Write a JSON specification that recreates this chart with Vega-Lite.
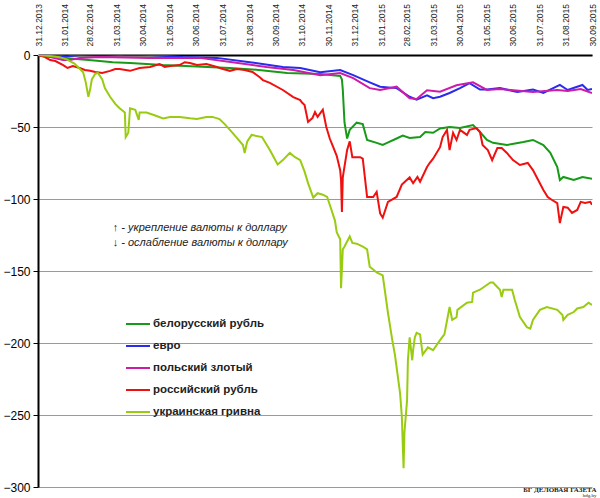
{
  "$schema": "https://vega.github.io/schema/vega-lite/v6.json",
  "width": 554,
  "height": 432,
  "autosize": {"type": "none"},
  "padding": {"left": 38, "top": 55, "right": 8, "bottom": 11},
  "background": "white",
  "config": {"view": {"stroke": null}, "font": "Liberation Sans"},
  "title": {
    "text": "БГ ДЕЛОВАЯ ГАЗЕТА",
    "subtitle": "bdg.by",
    "orient": "bottom",
    "anchor": "end",
    "font": "Liberation Serif",
    "fontSize": 7,
    "fontWeight": "bold",
    "color": "#222",
    "subtitleFont": "Liberation Serif",
    "subtitleFontSize": 5,
    "subtitleColor": "#222",
    "subtitlePadding": 0,
    "offset": -7
  },
  "datasets": {
    "rates": [
      {"date": "2013-12-31", "currency": "белорусский рубль", "value": 0},
      {"date": "2014-01-14", "currency": "белорусский рубль", "value": -1.2},
      {"date": "2014-01-29", "currency": "белорусский рубль", "value": -2},
      {"date": "2014-02-17", "currency": "белорусский рубль", "value": -3},
      {"date": "2014-03-09", "currency": "белорусский рубль", "value": -4},
      {"date": "2014-03-27", "currency": "белорусский рубль", "value": -5},
      {"date": "2014-04-16", "currency": "белорусский рубль", "value": -5.5},
      {"date": "2014-05-05", "currency": "белорусский рубль", "value": -6.2},
      {"date": "2014-05-24", "currency": "белорусский рубль", "value": -7},
      {"date": "2014-06-12", "currency": "белорусский рубль", "value": -7.5},
      {"date": "2014-07-02", "currency": "белорусский рубль", "value": -8},
      {"date": "2014-07-20", "currency": "белорусский рубль", "value": -8.5},
      {"date": "2014-08-09", "currency": "белорусский рубль", "value": -9},
      {"date": "2014-09-04", "currency": "белорусский рубль", "value": -10},
      {"date": "2014-10-14", "currency": "белорусский рубль", "value": -12.5},
      {"date": "2014-11-21", "currency": "белорусский рубль", "value": -13.2},
      {"date": "2014-12-14", "currency": "белорусский рубль", "value": -14.5},
      {"date": "2014-12-16", "currency": "белорусский рубль", "value": -17},
      {"date": "2014-12-17", "currency": "белорусский рубль", "value": -24},
      {"date": "2014-12-19", "currency": "белорусский рубль", "value": -47},
      {"date": "2014-12-22", "currency": "белорусский рубль", "value": -58},
      {"date": "2014-12-25", "currency": "белорусский рубль", "value": -52},
      {"date": "2015-01-02", "currency": "белорусский рубль", "value": -47},
      {"date": "2015-01-09", "currency": "белорусский рубль", "value": -48},
      {"date": "2015-01-14", "currency": "белорусский рубль", "value": -59},
      {"date": "2015-01-25", "currency": "белорусский рубль", "value": -61},
      {"date": "2015-02-01", "currency": "белорусский рубль", "value": -62.5},
      {"date": "2015-02-06", "currency": "белорусский рубль", "value": -61},
      {"date": "2015-02-17", "currency": "белорусский рубль", "value": -58},
      {"date": "2015-02-24", "currency": "белорусский рубль", "value": -56},
      {"date": "2015-03-04", "currency": "белорусский рубль", "value": -57.6},
      {"date": "2015-03-16", "currency": "белорусский рубль", "value": -57},
      {"date": "2015-03-22", "currency": "белорусский рубль", "value": -53.5},
      {"date": "2015-03-31", "currency": "белорусский рубль", "value": -54},
      {"date": "2015-04-08", "currency": "белорусский рубль", "value": -51},
      {"date": "2015-04-19", "currency": "белорусский рубль", "value": -50},
      {"date": "2015-05-01", "currency": "белорусский рубль", "value": -50.7},
      {"date": "2015-05-16", "currency": "белорусский рубль", "value": -48.6},
      {"date": "2015-05-24", "currency": "белорусский рубль", "value": -53.5},
      {"date": "2015-06-01", "currency": "белорусский рубль", "value": -59},
      {"date": "2015-06-08", "currency": "белорусский рубль", "value": -61},
      {"date": "2015-06-24", "currency": "белорусский рубль", "value": -62.5},
      {"date": "2015-07-13", "currency": "белорусский рубль", "value": -60.4},
      {"date": "2015-07-24", "currency": "белорусский рубль", "value": -59},
      {"date": "2015-08-05", "currency": "белорусский рубль", "value": -62.5},
      {"date": "2015-08-13", "currency": "белорусский рубль", "value": -68},
      {"date": "2015-08-21", "currency": "белорусский рубль", "value": -77.8},
      {"date": "2015-08-24", "currency": "белорусский рубль", "value": -86.8},
      {"date": "2015-08-28", "currency": "белорусский рубль", "value": -84.7},
      {"date": "2015-09-09", "currency": "белорусский рубль", "value": -86.8},
      {"date": "2015-09-19", "currency": "белорусский рубль", "value": -84.7},
      {"date": "2015-09-30", "currency": "белорусский рубль", "value": -86},

      {"date": "2013-12-31", "currency": "евро", "value": 0},
      {"date": "2014-01-14", "currency": "евро", "value": 0},
      {"date": "2014-02-02", "currency": "евро", "value": -1},
      {"date": "2014-02-17", "currency": "евро", "value": 0},
      {"date": "2014-03-12", "currency": "евро", "value": 0.5},
      {"date": "2014-04-04", "currency": "евро", "value": 0},
      {"date": "2014-04-19", "currency": "евро", "value": 0.3},
      {"date": "2014-05-09", "currency": "евро", "value": 0},
      {"date": "2014-06-16", "currency": "евро", "value": -1.4},
      {"date": "2014-07-25", "currency": "евро", "value": -2},
      {"date": "2014-09-01", "currency": "евро", "value": -5},
      {"date": "2014-10-09", "currency": "евро", "value": -8.3},
      {"date": "2014-10-29", "currency": "евро", "value": -9},
      {"date": "2014-11-21", "currency": "евро", "value": -12},
      {"date": "2014-12-14", "currency": "евро", "value": -10.4},
      {"date": "2014-12-29", "currency": "евро", "value": -14},
      {"date": "2015-01-17", "currency": "евро", "value": -19},
      {"date": "2015-01-29", "currency": "евро", "value": -22},
      {"date": "2015-02-17", "currency": "евро", "value": -23},
      {"date": "2015-03-04", "currency": "евро", "value": -29},
      {"date": "2015-03-12", "currency": "евро", "value": -31},
      {"date": "2015-03-24", "currency": "евро", "value": -28},
      {"date": "2015-03-31", "currency": "евро", "value": -30},
      {"date": "2015-04-08", "currency": "евро", "value": -29},
      {"date": "2015-04-19", "currency": "евро", "value": -26.4},
      {"date": "2015-05-01", "currency": "евро", "value": -23},
      {"date": "2015-05-12", "currency": "евро", "value": -19.5},
      {"date": "2015-05-24", "currency": "евро", "value": -24},
      {"date": "2015-06-01", "currency": "евро", "value": -24},
      {"date": "2015-06-16", "currency": "евро", "value": -23},
      {"date": "2015-07-06", "currency": "евро", "value": -25.7},
      {"date": "2015-07-24", "currency": "евро", "value": -24},
      {"date": "2015-08-05", "currency": "евро", "value": -26.4},
      {"date": "2015-08-24", "currency": "евро", "value": -20.8},
      {"date": "2015-09-02", "currency": "евро", "value": -24.3},
      {"date": "2015-09-19", "currency": "евро", "value": -20.8},
      {"date": "2015-09-25", "currency": "евро", "value": -24.3},
      {"date": "2015-09-30", "currency": "евро", "value": -23.6},

      {"date": "2013-12-31", "currency": "польский злотый", "value": 0},
      {"date": "2014-01-14", "currency": "польский злотый", "value": -1.4},
      {"date": "2014-01-29", "currency": "польский злотый", "value": -3.5},
      {"date": "2014-02-06", "currency": "польский злотый", "value": -3.5},
      {"date": "2014-02-17", "currency": "польский злотый", "value": -2},
      {"date": "2014-03-12", "currency": "польский злотый", "value": -1.4},
      {"date": "2014-05-09", "currency": "польский злотый", "value": -2},
      {"date": "2014-07-05", "currency": "польский злотый", "value": -2},
      {"date": "2014-08-12", "currency": "польский злотый", "value": -5},
      {"date": "2014-09-20", "currency": "польский злотый", "value": -8.3},
      {"date": "2014-10-21", "currency": "польский злотый", "value": -10.4},
      {"date": "2014-11-21", "currency": "польский злотый", "value": -14},
      {"date": "2014-12-14", "currency": "польский злотый", "value": -12.5},
      {"date": "2014-12-29", "currency": "польский злотый", "value": -16},
      {"date": "2015-01-17", "currency": "польский злотый", "value": -23},
      {"date": "2015-01-29", "currency": "польский злотый", "value": -24.3},
      {"date": "2015-02-17", "currency": "польский злотый", "value": -22},
      {"date": "2015-03-04", "currency": "польский злотый", "value": -30},
      {"date": "2015-03-12", "currency": "польский злотый", "value": -30.5},
      {"date": "2015-03-24", "currency": "польский злотый", "value": -24.5},
      {"date": "2015-04-08", "currency": "польский злотый", "value": -25.5},
      {"date": "2015-04-27", "currency": "польский злотый", "value": -21},
      {"date": "2015-05-16", "currency": "польский злотый", "value": -19},
      {"date": "2015-06-01", "currency": "польский злотый", "value": -24.3},
      {"date": "2015-06-16", "currency": "польский злотый", "value": -23.6},
      {"date": "2015-07-24", "currency": "польский злотый", "value": -25.7},
      {"date": "2015-08-21", "currency": "польский злотый", "value": -24.3},
      {"date": "2015-09-02", "currency": "польский злотый", "value": -25},
      {"date": "2015-09-17", "currency": "польский злотый", "value": -23.6},
      {"date": "2015-09-30", "currency": "польский злотый", "value": -26.4},

      {"date": "2013-12-31", "currency": "российский рубль", "value": 0},
      {"date": "2014-01-08", "currency": "российский рубль", "value": -1.4},
      {"date": "2014-01-14", "currency": "российский рубль", "value": -3.5},
      {"date": "2014-01-20", "currency": "российский рубль", "value": -4.2},
      {"date": "2014-01-29", "currency": "российский рубль", "value": -7},
      {"date": "2014-02-03", "currency": "российский рубль", "value": -9},
      {"date": "2014-02-09", "currency": "российский рубль", "value": -7.6},
      {"date": "2014-02-17", "currency": "российский рубль", "value": -9},
      {"date": "2014-02-23", "currency": "российский рубль", "value": -10.4},
      {"date": "2014-03-01", "currency": "российский рубль", "value": -11},
      {"date": "2014-03-07", "currency": "российский рубль", "value": -11.8},
      {"date": "2014-03-15", "currency": "российский рубль", "value": -12.5},
      {"date": "2014-03-24", "currency": "российский рубль", "value": -11},
      {"date": "2014-03-30", "currency": "российский рубль", "value": -9.7},
      {"date": "2014-04-04", "currency": "российский рубль", "value": -9.7},
      {"date": "2014-04-16", "currency": "российский рубль", "value": -11},
      {"date": "2014-04-27", "currency": "российский рубль", "value": -9},
      {"date": "2014-05-09", "currency": "российский рубль", "value": -8.3},
      {"date": "2014-05-20", "currency": "российский рубль", "value": -6.3},
      {"date": "2014-05-26", "currency": "российский рубль", "value": -8.3},
      {"date": "2014-06-01", "currency": "российский рубль", "value": -7.6},
      {"date": "2014-06-12", "currency": "российский рубль", "value": -7},
      {"date": "2014-06-18", "currency": "российский рубль", "value": -5},
      {"date": "2014-06-24", "currency": "российский рубль", "value": -5.6},
      {"date": "2014-07-02", "currency": "российский рубль", "value": -7},
      {"date": "2014-07-13", "currency": "российский рубль", "value": -6.3},
      {"date": "2014-07-25", "currency": "российский рубль", "value": -8.3},
      {"date": "2014-08-01", "currency": "российский рубль", "value": -9.7},
      {"date": "2014-08-09", "currency": "российский рубль", "value": -11},
      {"date": "2014-08-17", "currency": "российский рубль", "value": -9.7},
      {"date": "2014-08-26", "currency": "российский рубль", "value": -10.4},
      {"date": "2014-09-04", "currency": "российский рубль", "value": -11.8},
      {"date": "2014-09-12", "currency": "российский рубль", "value": -15.3},
      {"date": "2014-09-16", "currency": "российский рубль", "value": -17.4},
      {"date": "2014-09-24", "currency": "российский рубль", "value": -19.4},
      {"date": "2014-10-09", "currency": "российский рубль", "value": -24.3},
      {"date": "2014-10-21", "currency": "российский рубль", "value": -29.2},
      {"date": "2014-10-29", "currency": "российский рубль", "value": -31.3},
      {"date": "2014-10-31", "currency": "российский рубль", "value": -33},
      {"date": "2014-11-03", "currency": "российский рубль", "value": -34.7},
      {"date": "2014-11-07", "currency": "российский рубль", "value": -46.5},
      {"date": "2014-11-12", "currency": "российский рубль", "value": -43.8},
      {"date": "2014-11-15", "currency": "российский рубль", "value": -39.6},
      {"date": "2014-11-18", "currency": "российский рубль", "value": -43},
      {"date": "2014-11-24", "currency": "российский рубль", "value": -38},
      {"date": "2014-11-28", "currency": "российский рубль", "value": -50},
      {"date": "2014-12-02", "currency": "российский рубль", "value": -58},
      {"date": "2014-12-06", "currency": "российский рубль", "value": -64},
      {"date": "2014-12-10", "currency": "российский рубль", "value": -70},
      {"date": "2014-12-14", "currency": "российский рубль", "value": -80},
      {"date": "2014-12-15", "currency": "российский рубль", "value": -87},
      {"date": "2014-12-16", "currency": "российский рубль", "value": -109},
      {"date": "2014-12-17", "currency": "российский рубль", "value": -85},
      {"date": "2014-12-22", "currency": "российский рубль", "value": -66},
      {"date": "2014-12-25", "currency": "российский рубль", "value": -60},
      {"date": "2014-12-28", "currency": "российский рубль", "value": -71},
      {"date": "2015-01-06", "currency": "российский рубль", "value": -71},
      {"date": "2015-01-09", "currency": "российский рубль", "value": -72},
      {"date": "2015-01-14", "currency": "российский рубль", "value": -98.6},
      {"date": "2015-01-21", "currency": "российский рубль", "value": -98.6},
      {"date": "2015-01-25", "currency": "российский рубль", "value": -95},
      {"date": "2015-01-29", "currency": "российский рубль", "value": -110},
      {"date": "2015-02-01", "currency": "российский рубль", "value": -113},
      {"date": "2015-02-07", "currency": "российский рубль", "value": -102},
      {"date": "2015-02-17", "currency": "российский рубль", "value": -98.6},
      {"date": "2015-02-23", "currency": "российский рубль", "value": -90},
      {"date": "2015-03-04", "currency": "российский рубль", "value": -85},
      {"date": "2015-03-08", "currency": "российский рубль", "value": -89},
      {"date": "2015-03-13", "currency": "российский рубль", "value": -84.7},
      {"date": "2015-03-16", "currency": "российский рубль", "value": -88},
      {"date": "2015-03-24", "currency": "российский рубль", "value": -77.8},
      {"date": "2015-03-27", "currency": "российский рубль", "value": -75},
      {"date": "2015-03-31", "currency": "российский рубль", "value": -72},
      {"date": "2015-04-08", "currency": "российский рубль", "value": -64},
      {"date": "2015-04-11", "currency": "российский рубль", "value": -57},
      {"date": "2015-04-16", "currency": "российский рубль", "value": -52},
      {"date": "2015-04-19", "currency": "российский рубль", "value": -66},
      {"date": "2015-04-23", "currency": "российский рубль", "value": -54},
      {"date": "2015-04-27", "currency": "российский рубль", "value": -59},
      {"date": "2015-05-01", "currency": "российский рубль", "value": -52},
      {"date": "2015-05-09", "currency": "российский рубль", "value": -55.5},
      {"date": "2015-05-12", "currency": "российский рубль", "value": -52},
      {"date": "2015-05-20", "currency": "российский рубль", "value": -50.7},
      {"date": "2015-05-24", "currency": "российский рубль", "value": -53.5},
      {"date": "2015-05-27", "currency": "российский рубль", "value": -62.5},
      {"date": "2015-06-02", "currency": "российский рубль", "value": -66},
      {"date": "2015-06-07", "currency": "российский рубль", "value": -73},
      {"date": "2015-06-13", "currency": "российский рубль", "value": -64.6},
      {"date": "2015-06-18", "currency": "российский рубль", "value": -64.6},
      {"date": "2015-06-24", "currency": "российский рубль", "value": -68},
      {"date": "2015-07-01", "currency": "российский рубль", "value": -73},
      {"date": "2015-07-09", "currency": "российский рубль", "value": -76.4},
      {"date": "2015-07-18", "currency": "российский рубль", "value": -75},
      {"date": "2015-07-24", "currency": "российский рубль", "value": -79.9},
      {"date": "2015-07-30", "currency": "российский рубль", "value": -86.8},
      {"date": "2015-08-05", "currency": "российский рубль", "value": -93.8},
      {"date": "2015-08-10", "currency": "российский рубль", "value": -98.6},
      {"date": "2015-08-15", "currency": "российский рубль", "value": -100.7},
      {"date": "2015-08-21", "currency": "российский рубль", "value": -102.8},
      {"date": "2015-08-24", "currency": "российский рубль", "value": -116.7},
      {"date": "2015-08-28", "currency": "российский рубль", "value": -105.5},
      {"date": "2015-09-02", "currency": "российский рубль", "value": -106},
      {"date": "2015-09-07", "currency": "российский рубль", "value": -109.7},
      {"date": "2015-09-13", "currency": "российский рубль", "value": -107.6},
      {"date": "2015-09-17", "currency": "российский рубль", "value": -102},
      {"date": "2015-09-22", "currency": "российский рубль", "value": -102.8},
      {"date": "2015-09-28", "currency": "российский рубль", "value": -102},
      {"date": "2015-09-30", "currency": "российский рубль", "value": -104},

      {"date": "2013-12-31", "currency": "украинская гривна", "value": 0},
      {"date": "2014-01-14", "currency": "украинская гривна", "value": -0.7},
      {"date": "2014-01-25", "currency": "украинская гривна", "value": -1.5},
      {"date": "2014-02-02", "currency": "украинская гривна", "value": -3},
      {"date": "2014-02-11", "currency": "украинская гривна", "value": -6},
      {"date": "2014-02-21", "currency": "украинская гривна", "value": -12},
      {"date": "2014-02-24", "currency": "украинская гривна", "value": -19},
      {"date": "2014-02-27", "currency": "украинская гривна", "value": -29},
      {"date": "2014-03-01", "currency": "украинская гривна", "value": -24},
      {"date": "2014-03-03", "currency": "украинская гривна", "value": -17},
      {"date": "2014-03-07", "currency": "украинская гривна", "value": -13},
      {"date": "2014-03-10", "currency": "украинская гривна", "value": -12.5},
      {"date": "2014-03-15", "currency": "украинская гривна", "value": -17},
      {"date": "2014-03-18", "currency": "украинская гривна", "value": -23},
      {"date": "2014-03-24", "currency": "украинская гривна", "value": -29},
      {"date": "2014-03-30", "currency": "украинская гривна", "value": -34},
      {"date": "2014-04-04", "currency": "украинская гривна", "value": -37},
      {"date": "2014-04-10", "currency": "украинская гривна", "value": -40},
      {"date": "2014-04-11", "currency": "украинская гривна", "value": -57},
      {"date": "2014-04-14", "currency": "украинская гривна", "value": -54},
      {"date": "2014-04-16", "currency": "украинская гривна", "value": -37},
      {"date": "2014-04-22", "currency": "украинская гривна", "value": -38},
      {"date": "2014-04-26", "currency": "украинская гривна", "value": -45},
      {"date": "2014-04-27", "currency": "украинская гривна", "value": -40},
      {"date": "2014-05-05", "currency": "украинская гривна", "value": -40},
      {"date": "2014-05-15", "currency": "украинская гривна", "value": -42},
      {"date": "2014-05-24", "currency": "украинская гривна", "value": -44},
      {"date": "2014-06-01", "currency": "украинская гривна", "value": -43},
      {"date": "2014-06-12", "currency": "украинская гривна", "value": -43},
      {"date": "2014-06-24", "currency": "украинская гривна", "value": -44},
      {"date": "2014-07-02", "currency": "украинская гривна", "value": -44.5},
      {"date": "2014-07-13", "currency": "украинская гривна", "value": -43},
      {"date": "2014-07-20", "currency": "украинская гривна", "value": -43},
      {"date": "2014-07-28", "currency": "украинская гривна", "value": -44.5},
      {"date": "2014-08-03", "currency": "украинская гривна", "value": -48},
      {"date": "2014-08-09", "currency": "украинская гривна", "value": -52},
      {"date": "2014-08-17", "currency": "украинская гривна", "value": -57.5},
      {"date": "2014-08-24", "currency": "украинская гривна", "value": -62.5},
      {"date": "2014-08-26", "currency": "украинская гривна", "value": -68},
      {"date": "2014-08-29", "currency": "украинская гривна", "value": -60},
      {"date": "2014-09-03", "currency": "украинская гривна", "value": -55.5},
      {"date": "2014-09-15", "currency": "украинская гривна", "value": -57},
      {"date": "2014-09-24", "currency": "украинская гривна", "value": -66},
      {"date": "2014-10-03", "currency": "украинская гривна", "value": -76},
      {"date": "2014-10-09", "currency": "украинская гривна", "value": -73},
      {"date": "2014-10-17", "currency": "украинская гривна", "value": -68},
      {"date": "2014-10-23", "currency": "украинская гривна", "value": -71},
      {"date": "2014-10-29", "currency": "украинская гривна", "value": -73},
      {"date": "2014-11-03", "currency": "украинская гривна", "value": -81},
      {"date": "2014-11-07", "currency": "украинская гривна", "value": -89},
      {"date": "2014-11-13", "currency": "украинская гривна", "value": -99},
      {"date": "2014-11-18", "currency": "украинская гривна", "value": -96},
      {"date": "2014-11-24", "currency": "украинская гривна", "value": -97},
      {"date": "2014-11-29", "currency": "украинская гривна", "value": -98.6},
      {"date": "2014-12-02", "currency": "украинская гривна", "value": -104},
      {"date": "2014-12-08", "currency": "украинская гривна", "value": -115},
      {"date": "2014-12-10", "currency": "украинская гривна", "value": -123},
      {"date": "2014-12-14", "currency": "украинская гривна", "value": -128},
      {"date": "2014-12-15", "currency": "украинская гривна", "value": -162},
      {"date": "2014-12-17", "currency": "украинская гривна", "value": -135},
      {"date": "2014-12-19", "currency": "украинская гривна", "value": -133},
      {"date": "2014-12-25", "currency": "украинская гривна", "value": -126},
      {"date": "2014-12-28", "currency": "украинская гривна", "value": -130.5},
      {"date": "2015-01-02", "currency": "украинская гривна", "value": -131},
      {"date": "2015-01-09", "currency": "украинская гривна", "value": -133},
      {"date": "2015-01-14", "currency": "украинская гривна", "value": -135},
      {"date": "2015-01-17", "currency": "украинская гривна", "value": -147},
      {"date": "2015-01-21", "currency": "украинская гривна", "value": -149},
      {"date": "2015-01-25", "currency": "украинская гривна", "value": -151},
      {"date": "2015-02-01", "currency": "украинская гривна", "value": -153},
      {"date": "2015-02-07", "currency": "украинская гривна", "value": -179},
      {"date": "2015-02-12", "currency": "украинская гривна", "value": -198},
      {"date": "2015-02-15", "currency": "украинская гривна", "value": -208},
      {"date": "2015-02-21", "currency": "украинская гривна", "value": -235},
      {"date": "2015-02-23", "currency": "украинская гривна", "value": -251},
      {"date": "2015-02-25", "currency": "украинская гривна", "value": -287},
      {"date": "2015-02-26", "currency": "украинская гривна", "value": -262},
      {"date": "2015-03-01", "currency": "украинская гривна", "value": -240},
      {"date": "2015-03-02", "currency": "украинская гривна", "value": -212},
      {"date": "2015-03-04", "currency": "украинская гривна", "value": -196},
      {"date": "2015-03-07", "currency": "украинская гривна", "value": -212},
      {"date": "2015-03-08", "currency": "украинская гривна", "value": -205},
      {"date": "2015-03-10", "currency": "украинская гривна", "value": -196},
      {"date": "2015-03-12", "currency": "украинская гривна", "value": -193},
      {"date": "2015-03-16", "currency": "украинская гривна", "value": -194},
      {"date": "2015-03-19", "currency": "украинская гривна", "value": -208},
      {"date": "2015-03-25", "currency": "украинская гривна", "value": -203},
      {"date": "2015-03-31", "currency": "украинская гривна", "value": -205},
      {"date": "2015-04-08", "currency": "украинская гривна", "value": -198},
      {"date": "2015-04-13", "currency": "украинская гривна", "value": -194},
      {"date": "2015-04-19", "currency": "украинская гривна", "value": -175},
      {"date": "2015-04-22", "currency": "украинская гривна", "value": -184},
      {"date": "2015-04-27", "currency": "украинская гривна", "value": -182},
      {"date": "2015-04-28", "currency": "украинская гривна", "value": -177},
      {"date": "2015-05-09", "currency": "украинская гривна", "value": -172},
      {"date": "2015-05-15", "currency": "украинская гривна", "value": -171.5},
      {"date": "2015-05-16", "currency": "украинская гривна", "value": -165},
      {"date": "2015-05-24", "currency": "украинская гривна", "value": -163},
      {"date": "2015-06-05", "currency": "украинская гривна", "value": -158},
      {"date": "2015-06-08", "currency": "украинская гривна", "value": -158},
      {"date": "2015-06-16", "currency": "украинская гривна", "value": -163},
      {"date": "2015-06-18", "currency": "украинская гривна", "value": -168},
      {"date": "2015-06-20", "currency": "украинская гривна", "value": -163},
      {"date": "2015-06-30", "currency": "украинская гривна", "value": -163},
      {"date": "2015-07-03", "currency": "украинская гривна", "value": -170},
      {"date": "2015-07-09", "currency": "украинская гривна", "value": -182},
      {"date": "2015-07-17", "currency": "украинская гривна", "value": -189},
      {"date": "2015-07-21", "currency": "украинская гривна", "value": -190},
      {"date": "2015-07-24", "currency": "украинская гривна", "value": -184},
      {"date": "2015-08-01", "currency": "украинская гривна", "value": -177},
      {"date": "2015-08-09", "currency": "украинская гривна", "value": -175},
      {"date": "2015-08-21", "currency": "украинская гривна", "value": -177},
      {"date": "2015-08-27", "currency": "украинская гривна", "value": -180.5},
      {"date": "2015-08-28", "currency": "украинская гривна", "value": -184},
      {"date": "2015-09-02", "currency": "украинская гривна", "value": -180.5},
      {"date": "2015-09-09", "currency": "украинская гривна", "value": -178.5},
      {"date": "2015-09-13", "currency": "украинская гривна", "value": -176},
      {"date": "2015-09-20", "currency": "украинская гривна", "value": -175},
      {"date": "2015-09-26", "currency": "украинская гривна", "value": -172},
      {"date": "2015-09-30", "currency": "украинская гривна", "value": -173.6}
    ],
    "notes": [
      {"date": "2014-03-27", "value": -120, "text": "↑ - укрепление валюты к доллару"},
      {"date": "2014-03-27", "value": -130.5, "text": "↓ - ослабление валюты к доллару"}
    ]
  },
  "encoding": {
    "x": {
      "field": "date",
      "type": "temporal",
      "title": null,
      "scale": {
        "type": "utc",
        "nice": false,
        "domain": [
          {"year": 2013, "month": 12, "date": 31, "utc": true},
          {"year": 2015, "month": 9, "date": 30, "utc": true}
        ]
      },
      "axis": {
        "orient": "top",
        "values": [
          {"year": 2013, "month": 12, "date": 31, "utc": true},
          {"year": 2014, "month": 1, "date": 31, "utc": true},
          {"year": 2014, "month": 2, "date": 28, "utc": true},
          {"year": 2014, "month": 3, "date": 31, "utc": true},
          {"year": 2014, "month": 4, "date": 30, "utc": true},
          {"year": 2014, "month": 5, "date": 31, "utc": true},
          {"year": 2014, "month": 6, "date": 30, "utc": true},
          {"year": 2014, "month": 7, "date": 31, "utc": true},
          {"year": 2014, "month": 8, "date": 31, "utc": true},
          {"year": 2014, "month": 9, "date": 30, "utc": true},
          {"year": 2014, "month": 10, "date": 31, "utc": true},
          {"year": 2014, "month": 11, "date": 30, "utc": true},
          {"year": 2014, "month": 12, "date": 31, "utc": true},
          {"year": 2015, "month": 1, "date": 31, "utc": true},
          {"year": 2015, "month": 2, "date": 28, "utc": true},
          {"year": 2015, "month": 3, "date": 31, "utc": true},
          {"year": 2015, "month": 4, "date": 30, "utc": true},
          {"year": 2015, "month": 5, "date": 31, "utc": true},
          {"year": 2015, "month": 6, "date": 30, "utc": true},
          {"year": 2015, "month": 7, "date": 31, "utc": true},
          {"year": 2015, "month": 8, "date": 31, "utc": true},
          {"year": 2015, "month": 9, "date": 30, "utc": true}
        ],
        "format": "%d.%m.%Y",
        "labelAngle": -90,
        "labelAlign": "left",
        "labelBaseline": "middle",
        "labelFontSize": 8.5,
        "labelColor": "#222",
        "labelPadding": 9,
        "labelOverlap": false,
        "labelFlush": false,
        "ticks": false,
        "grid": false,
        "domainColor": "black",
        "domainWidth": 2
      }
    },
    "y": {
      "field": "value",
      "type": "quantitative",
      "title": null,
      "scale": {"domain": [-300, 0], "nice": false},
      "axis": {
        "values": [0, -50, -100, -150, -200, -250, -300],
        "grid": true,
        "gridColor": "#9a9a9a",
        "gridWidth": 1,
        "domainColor": "black",
        "domainWidth": 2,
        "tickColor": "black",
        "tickSize": 5,
        "labelFontSize": 12,
        "labelColor": "black",
        "labelPadding": 3
      }
    }
  },
  "layer": [
    {
      "data": {"name": "rates"},
      "mark": {"type": "line", "strokeWidth": 2, "clip": true},
      "encoding": {
        "color": {
          "field": "currency",
          "type": "nominal",
          "scale": {
            "domain": ["белорусский рубль", "евро", "польский злотый", "российский рубль", "украинская гривна"],
            "range": ["#179a17", "#2a2af0", "#cc1ca8", "#f01010", "#99cc11"]
          },
          "legend": {
            "orient": "none",
            "legendX": 87,
            "legendY": 256,
            "title": null,
            "symbolType": "stroke",
            "symbolStrokeWidth": 2,
            "symbolSize": 576,
            "rowPadding": 3,
            "labelOffset": 2,
            "labelFontSize": 11.5,
            "labelFontWeight": "bold",
            "labelColor": "#222"
          }
        }
      }
    },
    {
      "data": {"name": "notes"},
      "mark": {"type": "text", "align": "left", "baseline": "middle", "fontStyle": "italic", "fontSize": 11, "color": "#222"},
      "encoding": {
        "text": {"field": "text", "type": "nominal"}
      }
    }
  ]
}
